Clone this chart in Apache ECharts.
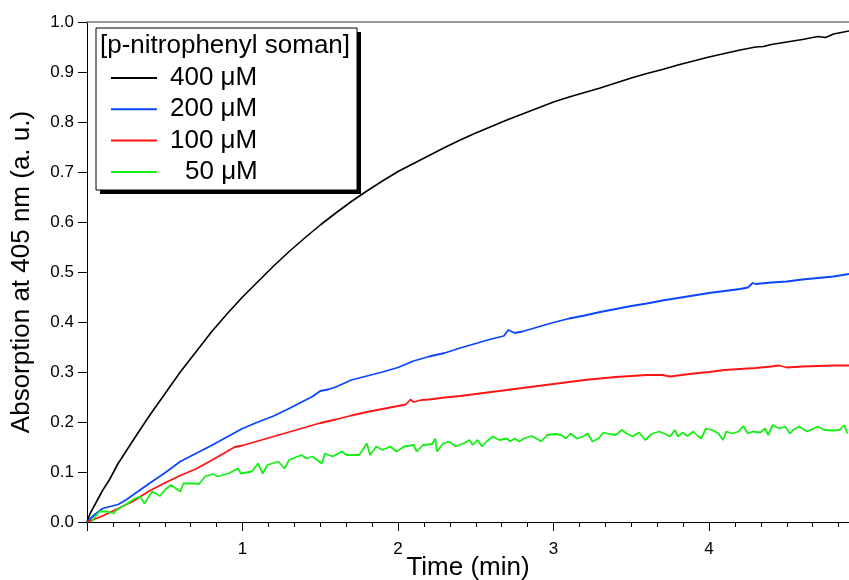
<!DOCTYPE html>
<html>
<head>
<meta charset="utf-8">
<script src="https://cdn.jsdelivr.net/npm/echarts@6/dist/echarts.min.js"></script>
<style>
html,body{margin:0;padding:0;background:#fff;}
#chart{width:849px;height:580px;}
</style>
</head>
<body>
<div id="chart"></div>
<script>
// ---- Data ----
const seriesNames = ['400 \u03bcM', '200 \u03bcM', '100 \u03bcM', '50 \u03bcM'];
const legendTitle = '[p-nitrophenyl soman]';
const xTickLabels = ['1', '2', '3', '4'];
const yTickLabels = ['0.0','0.1','0.2','0.3','0.4','0.5','0.6','0.7','0.8','0.9','1.0'];

const blackTime  = [0, 0.02, 0.1, 0.145, 0.2, 0.3, 0.4, 0.5, 0.6, 0.7, 0.8, 0.9, 1.0, 1.1, 1.2, 1.3, 1.4, 1.5, 1.6, 1.7, 1.8, 1.9, 2.0, 2.1, 2.2, 2.3, 2.4, 2.5, 2.6, 2.7, 2.8, 2.9, 3.0, 3.1, 3.2, 3.3, 3.4, 3.5, 3.6, 3.7, 3.8, 3.9, 4.0, 4.1, 4.2, 4.3, 4.35, 4.4, 4.5, 4.6, 4.7, 4.75, 4.8, 4.9];
const blackValue = [0, 0.017, 0.063, 0.085, 0.117, 0.165, 0.212, 0.256, 0.300, 0.340, 0.380, 0.416, 0.450, 0.481, 0.512, 0.541, 0.568, 0.594, 0.618, 0.641, 0.662, 0.682, 0.701, 0.717, 0.733, 0.749, 0.764, 0.778, 0.791, 0.804, 0.816, 0.828, 0.840, 0.850, 0.859, 0.868, 0.878, 0.888, 0.897, 0.905, 0.914, 0.922, 0.930, 0.937, 0.944, 0.950, 0.951, 0.955, 0.960, 0.965, 0.971, 0.969, 0.976, 0.982];

const blueTime  = [0, 0.05, 0.1, 0.15, 0.2, 0.25, 0.3, 0.4, 0.5, 0.6, 0.7, 0.8, 0.9, 1.0, 1.1, 1.2, 1.3, 1.4, 1.45, 1.5, 1.55, 1.6, 1.7, 1.8, 1.9, 2.0, 2.1, 2.2, 2.3, 2.4, 2.5, 2.6, 2.68, 2.71, 2.75, 2.8, 2.9, 3.0, 3.1, 3.2, 3.3, 3.4, 3.5, 3.6, 3.7, 3.8, 3.9, 4.0, 4.1, 4.2, 4.25, 4.28, 4.3, 4.4, 4.5, 4.6, 4.7, 4.8, 4.9];
const blueValue = [0, 0.015, 0.027, 0.031, 0.035, 0.044, 0.055, 0.077, 0.098, 0.121, 0.137, 0.153, 0.170, 0.187, 0.200, 0.212, 0.227, 0.243, 0.251, 0.262, 0.265, 0.270, 0.284, 0.292, 0.300, 0.309, 0.322, 0.331, 0.338, 0.348, 0.357, 0.366, 0.372, 0.384, 0.378, 0.381, 0.390, 0.399, 0.407, 0.413, 0.420, 0.426, 0.432, 0.437, 0.443, 0.448, 0.453, 0.458, 0.462, 0.466, 0.469, 0.478, 0.476, 0.479, 0.481, 0.485, 0.488, 0.491, 0.496];

const redTime  = [0, 0.1, 0.2, 0.3, 0.4, 0.5, 0.6, 0.7, 0.8, 0.9, 0.95, 1.0, 1.1, 1.2, 1.3, 1.4, 1.5, 1.6, 1.7, 1.8, 1.9, 2.0, 2.05, 2.08, 2.1, 2.15, 2.2, 2.3, 2.4, 2.5, 2.6, 2.7, 2.8, 2.9, 3.0, 3.1, 3.2, 3.3, 3.4, 3.5, 3.6, 3.7, 3.75, 3.8, 3.9, 4.0, 4.1, 4.2, 4.3, 4.4, 4.45, 4.5, 4.6, 4.7, 4.8, 4.9];
const redValue = [0, 0.012, 0.027, 0.042, 0.062, 0.078, 0.093, 0.106, 0.123, 0.141, 0.150, 0.153, 0.162, 0.171, 0.180, 0.189, 0.198, 0.205, 0.213, 0.220, 0.226, 0.232, 0.235, 0.245, 0.240, 0.244, 0.245, 0.249, 0.252, 0.256, 0.260, 0.264, 0.268, 0.272, 0.276, 0.280, 0.284, 0.287, 0.290, 0.292, 0.294, 0.294, 0.291, 0.293, 0.297, 0.300, 0.304, 0.306, 0.308, 0.311, 0.313, 0.309, 0.311, 0.312, 0.313, 0.313];

const greenTime  = [0.03, 0.05, 0.08, 0.13, 0.17, 0.19, 0.26, 0.31, 0.34, 0.37, 0.39, 0.42, 0.47, 0.50, 0.54, 0.60, 0.62, 0.69, 0.72, 0.76, 0.81, 0.84, 0.91, 0.97, 0.99, 1.06, 1.10, 1.13, 1.16, 1.23, 1.27, 1.30, 1.38, 1.41, 1.45, 1.51, 1.53, 1.58, 1.64, 1.67, 1.71, 1.75, 1.80, 1.82, 1.86, 1.90, 1.95, 1.99, 2.04, 2.10, 2.12, 2.16, 2.22, 2.24, 2.25, 2.29, 2.33, 2.37, 2.42, 2.46, 2.48, 2.51, 2.54, 2.57, 2.61, 2.65, 2.70, 2.72, 2.75, 2.78, 2.81, 2.86, 2.89, 2.92, 2.96, 3.01, 3.05, 3.08, 3.11, 3.15, 3.19, 3.22, 3.25, 3.29, 3.32, 3.36, 3.40, 3.44, 3.47, 3.51, 3.55, 3.59, 3.63, 3.68, 3.71, 3.75, 3.78, 3.80, 3.83, 3.86, 3.90, 3.93, 3.95, 3.98, 4.02, 4.06, 4.09, 4.11, 4.15, 4.19, 4.22, 4.25, 4.28, 4.33, 4.36, 4.38, 4.41, 4.45, 4.49, 4.52, 4.54, 4.58, 4.63, 4.66, 4.70, 4.74, 4.80, 4.84, 4.87, 4.89];
const greenValue = [0.000, 0.010, 0.021, 0.021, 0.017, 0.024, 0.037, 0.047, 0.051, 0.037, 0.047, 0.061, 0.052, 0.064, 0.074, 0.061, 0.077, 0.077, 0.076, 0.091, 0.096, 0.091, 0.097, 0.107, 0.097, 0.101, 0.117, 0.097, 0.114, 0.121, 0.107, 0.124, 0.134, 0.127, 0.131, 0.117, 0.137, 0.131, 0.141, 0.134, 0.134, 0.134, 0.157, 0.134, 0.151, 0.144, 0.151, 0.141, 0.151, 0.154, 0.141, 0.154, 0.156, 0.167, 0.141, 0.157, 0.161, 0.151, 0.157, 0.164, 0.154, 0.164, 0.151, 0.161, 0.171, 0.164, 0.167, 0.161, 0.167, 0.161, 0.167, 0.172, 0.167, 0.161, 0.174, 0.176, 0.174, 0.167, 0.177, 0.167, 0.171, 0.177, 0.161, 0.167, 0.179, 0.176, 0.174, 0.184, 0.177, 0.171, 0.179, 0.164, 0.176, 0.181, 0.177, 0.171, 0.184, 0.171, 0.179, 0.172, 0.181, 0.171, 0.167, 0.187, 0.184, 0.177, 0.164, 0.181, 0.177, 0.181, 0.192, 0.177, 0.181, 0.179, 0.187, 0.174, 0.194, 0.187, 0.191, 0.177, 0.184, 0.191, 0.181, 0.185, 0.191, 0.184, 0.183, 0.184, 0.194, 0.177];

const seriesColors = ['#000000', '#0a46ff', '#ff1414', '#14f014'];

function pairs(t, v) { return t.map((x, i) => [x, v[i]]); }

const FONT = '"Liberation Sans", Arial, sans-serif';
const chart = echarts.init(document.getElementById('chart'), null, {renderer: 'canvas'});

const data = [pairs(blackTime, blackValue), pairs(blueTime, blueValue), pairs(redTime, redValue), pairs(greenTime, greenValue)];

const option = {
  animation: false,
  backgroundColor: '#ffffff',
  grid: {left: 87, right: 0, top: 22, bottom: 58, containLabel: false, outerBoundsMode: 'none'},
  xAxis: [{
    type: 'value', min: 0, max: 4.9, interval: 1,
    name: 'Time (min)', nameLocation: 'middle', nameGap: 33, nameMoveOverlap: false,
    nameTextStyle: {fontFamily: FONT, fontSize: 26, color: '#000'},
    axisLine: {show: true, lineStyle: {color: '#000', width: 1}},
    axisTick: {show: true, inside: false, length: 9, lineStyle: {color: '#000'}},
    minorTick: {show: true, splitNumber: 6, length: 5, lineStyle: {color: '#000'}},
    splitLine: {show: false},
    axisLabel: {fontFamily: FONT, fontSize: 17, color: '#000', margin: 19,
      formatter: v => { const i = xTickLabels.indexOf(String(v)); return i >= 0 ? xTickLabels[i] : ''; }}
  }, {
    type: 'value', min: 0, max: 4.9, position: 'top',
    axisLine: {show: true, lineStyle: {color: '#7a7a7a', width: 1.5}},
    axisTick: {show: false}, axisLabel: {show: false}, splitLine: {show: false}
  }],
  yAxis: {
    type: 'value', min: 0, max: 1, interval: 0.1,
    name: 'Absorption at 405 nm (a. u.)', nameLocation: 'middle', nameGap: 52, nameMoveOverlap: false,
    nameTextStyle: {fontFamily: FONT, fontSize: 26, color: '#000'},
    axisLine: {show: true, lineStyle: {color: '#000', width: 1}},
    axisTick: {show: true, inside: false, length: 9, lineStyle: {color: '#000'}},
    splitLine: {show: false},
    axisLabel: {fontFamily: FONT, fontSize: 17, color: '#000', margin: 13,
      formatter: v => yTickLabels[Math.round(v * 10)]}
  },
  legend: {
    show: true, orient: 'vertical', left: 111, top: 65, z: 20, padding: 0,
    icon: 'rect', itemWidth: 46, itemHeight: 2, itemGap: 5.3,
    data: seriesNames,
    textStyle: {fontFamily: FONT, fontSize: 26, color: '#000', lineHeight: 26,
      padding: [0, 0, 0, 8],
      rich: {p: {fontFamily: FONT, fontSize: 26, color: '#000', lineHeight: 26, padding: [0, 0, 0, 15]}}},
    formatter: name => name === seriesNames[3] ? '{p|' + name + '}' : name
  },
  graphic: [
    {type: 'rect', z: 10, shape: {x: 100, y: 32, width: 261, height: 162}, style: {fill: '#000'}},
    {type: 'rect', z: 11, shape: {x: 96, y: 28, width: 261, height: 162}, style: {fill: '#fff', stroke: '#000', lineWidth: 1}},
    {type: 'text', z: 12, left: 100, top: 33, style: {text: legendTitle, fontFamily: FONT, fontSize: 26, fill: '#000'}}
  ],
  series: seriesNames.map((n, i) => ({
    name: n, type: 'line', data: data[i], xAxisIndex: 0,
    showSymbol: false, symbol: 'none', smooth: false,
    lineStyle: {color: seriesColors[i], width: i === 0 ? 1.6 : 1.8},
    itemStyle: {color: seriesColors[i]},
    z: 2 + i
  }))
};
chart.setOption(option);
</script>
</body>
</html>
